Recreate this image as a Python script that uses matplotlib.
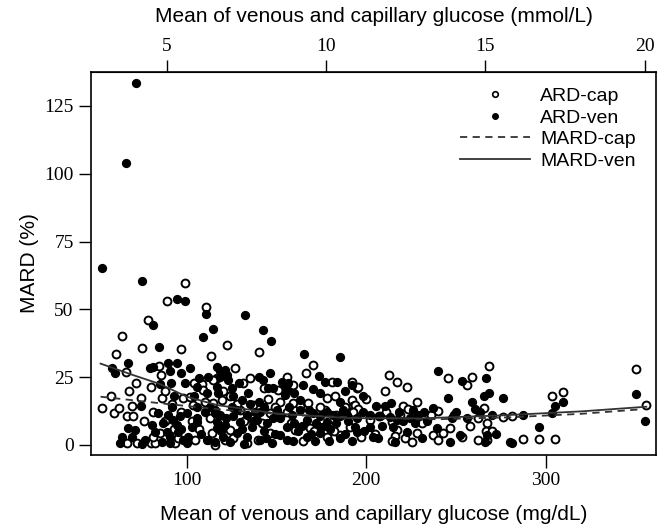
import matplotlib
matplotlib.use("Agg")
import matplotlib.pyplot as plt
from matplotlib.lines import Line2D

# ARD-ven (filled) points: glucose mg/dL, ARD %
ven_x = [52.6, 74.9, 94.4, 99.0, 110.6, 81.4, 114.5, 109.3, 84.7, 67.1, 58.2, 60.0, 79.5, 81.4,
         89.8, 90.7, 94.4, 96.6, 101.8, 85.1, 91.2, 107.0, 105.5, 74.5, 84.2, 89.8, 92.5, 96.3,
         100.0, 105.5, 94.4, 102.7, 105.5, 113.0, 115.7, 116.7, 116.7, 63.8, 62.8, 67.5, 71.2,
         69.3, 80.5, 82.3, 88.8, 90.7, 90.7, 95.3, 98.1, 100.9, 100.0, 111.1, 115.7, 116.7, 71.8,
         66.2, 132.5, 142.3, 146.8, 165.5, 185.4, 173.9, 118.5, 121.3, 122.3, 123.2, 118.5, 140.4,
         142.7, 146.4, 152.9, 148.3, 145.5, 154.8, 156.6, 154.8, 155.7, 170.5, 177.0, 183.5, 191.9,
         111.1, 117.6, 126.0, 130.6, 140.4, 163.1, 185.4, 115.8, 118.5, 116.7, 121.3, 126.0, 129.7,
         133.4, 136.2, 139.0, 140.8, 144.5, 150.1, 152.0, 155.7, 158.5, 163.1, 166.8, 170.5, 174.2,
         175.2, 177.9, 181.7, 185.4, 189.1, 193.8, 112.0, 120.4, 127.8, 133.4, 140.8, 147.3, 152.0,
         159.4, 166.8, 171.5, 174.2, 185.4, 191.9, 205.5, 210.5, 213.7, 240.2, 253.2, 266.8, 245.8,
         265.3, 268.6, 276.4, 258.8, 260.6, 263.4, 237.4, 202.1, 207.7, 213.3, 217.0, 220.7, 224.4,
         227.2, 202.1, 204.0, 194.7, 206.8, 215.1, 216.1, 222.6, 231.0, 239.3, 246.7, 252.3, 267.1,
         266.2, 280.1, 287.1, 281.0, 296.2, 303.7, 305.1, 309.8, 350.3, 355.3,
         125.0, 128.0, 135.0, 138.0, 143.0, 148.0, 157.0, 160.0, 162.0, 168.0, 172.0, 178.0, 180.0,
         183.0, 187.0, 190.0, 195.0, 198.0, 122.0, 131.0, 137.0, 143.0, 149.0, 156.0, 164.0, 169.0,
         179.0, 188.0, 124.0, 132.0, 144.0, 108.0, 106.0, 110.0, 119.0, 87.0, 92.0, 97.0, 77.0,
         75.0, 86.0, 199.0, 209.0, 218.0, 226.0, 232.0, 234.0, 229.0, 248.0, 250.0, 256.0, 270.0,
         272.0, 93.0, 104.0, 99.0, 112.0, 125.0, 134.0, 129.0, 160.0, 165.0, 174.0, 188.0, 198.0]
ven_y = [65.2, 60.6, 53.8, 53.1, 48.3, 44.3, 42.7, 39.7, 36.0, 30.4, 28.5, 26.4, 28.3, 28.9,
         30.1, 27.4, 30.4, 26.4, 28.3, 22.5, 22.8, 24.6, 21.5, 14.5, 11.7, 11.1, 9.2, 10.5,
         11.7, 14.1, 7.4, 6.8, 8.6, 14.1, 11.7, 21.5, 28.9, 3.1, 0.6, 6.1, 5.5,
         3.1, 7.4, 4.9, 4.9, 3.1, 0.6, 4.9, 1.8, 3.1, 0.6, 1.8, 1.2, 6.1, 133.5,
         104.0, 48.0, 42.4, 38.5, 33.5, 32.4, 25.5, 27.1, 27.7, 25.8, 24.0, 25.2, 25.0,
         24.0, 26.7, 23.4, 20.9, 20.9, 22.2, 22.8, 18.5, 20.3, 20.6, 23.4, 23.4, 22.2,
         19.1, 19.1, 17.9, 16.6, 16.0, 16.6, 16.0, 13.0, 11.1, 8.6, 7.4, 10.5, 8.6,
         11.1, 6.8, 9.3, 12.3, 8.0, 12.9, 9.9, 6.8, 11.1, 12.9, 9.3, 11.7, 10.5,
         6.8, 8.6, 11.1, 10.5, 11.1, 6.8, 1.9, 3.1, 4.3, 3.1, 1.9, 0.7, 3.7,
         1.3, 3.1, 1.3, 4.3, 2.5, 1.3, 14.4, 14.4, 15.6, 27.4, 23.7, 24.8, 17.2,
         18.1, 19.0, 17.2, 16.0, 13.1, 12.3, 13.8, 11.1, 10.7, 10.2, 9.2, 9.0, 9.8,
         8.0, 6.8, 3.1, 4.9, 2.5, 6.8, 1.2, 4.9, 2.5, 6.1, 1.2, 3.7, 3.7,
         1.2, 1.2, 11.1, 0.9, 6.5, 11.7, 14.4, 16.0, 18.8, 9.0,
         14.0, 13.0, 15.0, 12.0, 14.0, 10.0, 14.0, 8.0, 5.0, 13.0, 8.0, 12.0, 6.0,
         8.0, 13.0, 9.0, 10.0, 12.0, 10.0, 6.0, 9.0, 5.0, 4.0, 2.0, 7.0, 4.0,
         1.5, 4.0, 1.0, 0.5, 2.5, 4.0, 10.0, 12.0, 5.0, 8.0, 14.0, 6.0, 2.0,
         0.5, 1.0, 5.0, 7.0, 12.0, 13.0, 12.0, 9.0, 11.0, 10.0, 12.0, 10.0, 11.0,
         4.0, 18.0, 18.0, 23.0, 25.0, 21.0, 19.0, 23.0, 19.0, 22.0, 19.0, 20.0, 18.0]

# ARD-cap (open) points
cap_x = [99.0, 89.2, 110.6, 78.6, 63.9, 60.6, 74.9, 96.6, 113.3, 66.2, 84.7, 85.7, 79.9, 108.3,
         108.9, 57.8, 52.6, 59.7, 62.5, 66.5, 70.3, 69.3, 74.5, 81.4, 86.0, 91.6, 98.1, 101.8,
         103.7, 114.8, 116.7, 66.5, 72.1, 79.9, 82.3, 81.4, 85.1, 93.5, 95.3, 104.6, 113.9, 122.6,
         140.4, 170.2, 166.5, 126.9, 114.8, 131.5, 135.3, 155.7, 151.0, 180.8, 191.9, 194.7, 119.5,
         152.0, 159.4, 167.8, 178.0, 182.6, 191.9, 192.8, 115.8, 121.3, 126.0, 133.4, 139.9, 146.4,
         152.0, 160.3, 165.0, 168.7, 178.0, 185.4, 191.0, 129.7, 137.1, 146.4, 163.1, 177.0, 113.0,
         124.1, 195.6, 193.8, 195.6, 212.9, 217.0, 222.6, 210.5, 220.7, 245.8, 258.8, 268.6, 265.3,
         240.2, 267.1, 276.4, 192.5, 202.1, 207.3, 214.2, 217.0, 216.1, 214.2, 221.6, 225.4, 228.1,
         237.4, 240.2, 243.0, 246.7, 253.2, 262.5, 266.8, 267.1, 223.5, 281.0, 287.1, 296.2, 305.1,
         303.7, 309.8, 350.3, 355.8,
         88.0, 93.0, 97.0, 103.0, 107.0, 110.0, 124.0, 128.0, 132.0, 142.0, 145.0, 149.0, 156.0,
         158.0, 171.0, 174.0, 182.0, 188.0, 197.0, 205.0, 211.0, 219.0, 231.0, 236.0, 249.0, 258.0,
         270.0, 68.0, 76.0, 88.0, 72.0, 104.0, 120.0, 143.0, 159.0, 183.0, 200.0, 228.0, 256.0,
         262.0]
cap_y = [59.6, 53.1, 51.0, 46.1, 40.2, 33.6, 35.6, 35.3, 32.8, 27.0, 29.1, 25.8, 21.2, 22.5,
         20.3, 18.2, 13.5, 11.7, 13.8, 10.5, 10.5, 14.5, 17.2, 12.3, 17.2, 15.1, 17.2, 17.6,
         14.8, 15.4, 24.6, 0.6, 0.6, 0.6, 0.6, 3.1, 4.3, 0.6, 2.5, 1.8, 4.3, 36.9,
         34.2, 29.3, 26.5, 28.3, 24.0, 22.8, 24.6, 25.2, 20.3, 23.4, 23.4, 20.9, 16.6,
         16.0, 15.4, 15.4, 17.2, 17.9, 16.6, 14.2, 0.0, 1.9, 2.5, 0.7, 1.9, 4.3,
         10.5, 5.6, 1.3, 6.2, 3.1, 3.7, 6.8, 12.9, 14.8, 11.7, 14.2, 13.0, 9.9,
         5.6, 21.3, 14.7, 13.1, 25.8, 23.1, 21.3, 20.0, 14.4, 24.6, 25.2, 29.2, 13.5,
         12.5, 8.2, 10.2, 12.3, 9.2, 10.5, 8.6, 5.5, 3.3, 1.6, 2.5, 1.2, 4.3,
         3.7, 1.8, 4.3, 6.1, 2.8, 1.8, 5.3, 1.8, 13.1, 10.7, 2.2, 2.2, 2.2,
         18.1, 19.7, 27.9, 14.7,
         9.0, 6.0, 12.0, 9.0, 6.0, 16.0, 18.0, 15.0, 9.0, 8.0, 17.0, 14.0, 12.0,
         8.0, 5.0, 14.0, 5.0, 14.0, 3.0, 4.0, 12.0, 11.0, 8.0, 11.0, 11.0, 7.0,
         5.0, 20.0, 9.0, 20.0, 23.0, 23.0, 20.0, 21.0, 22.0, 11.0, 17.0, 16.0, 22.0,
         10.0]

# smoothed MARD curves
ven_fit_x = [52, 70, 85, 100, 117, 150, 190, 230, 275, 320, 356]
ven_fit_y = [30.0, 25.8, 22.5, 17.8, 14.7, 11.6, 9.9, 9.8, 10.9, 12.4, 14.1]
cap_fit_x = [52, 85, 120, 160, 200, 240, 280, 320, 354]
cap_fit_y = [17.8, 15.4, 13.0, 11.0, 10.0, 9.5, 10.2, 11.5, 13.2]

MG_PER_MMOL = 17.75

fig = plt.figure(figsize=(6.62, 5.32), dpi=100)
ax = fig.add_axes([0.1375, 0.1447, 0.8535, 0.72])

ax.scatter(cap_x, cap_y, s=32, facecolors="white", edgecolors="black", linewidths=1.4, zorder=3)
ax.scatter(ven_x, ven_y, s=32, color="black", zorder=3)
ax.plot(cap_fit_x, cap_fit_y, color="#333333", lw=1.3, ls=(0, (4, 3)), zorder=4)
ax.plot(ven_fit_x, ven_fit_y, color="#333333", lw=1.3, zorder=4)

ax.set_xlim(46.7, 361.4)
ax.set_ylim(-3.7, 137.5)
ax.set_xticks([100, 200, 300])
ax.set_yticks([0, 25, 50, 75, 100, 125])

for lab in ax.get_xticklabels() + ax.get_yticklabels():
    lab.set_fontfamily("Liberation Serif")
    lab.set_fontsize(14)
ax.tick_params(direction="out", length=9, width=1.0, top=False, right=False)
for sp in ax.spines.values():
    sp.set_linewidth(1.2)

top = ax.secondary_xaxis("top", functions=(lambda x: x / MG_PER_MMOL, lambda x: x * MG_PER_MMOL))
top.set_xticks([5, 10, 15, 20])
top.tick_params(direction="out", length=9, width=1.0)
for lab in top.get_xticklabels():
    lab.set_fontfamily("Liberation Serif")
    lab.set_fontsize(14)

ax.set_ylabel("MARD (%)", fontsize=15, family="Liberation Sans", labelpad=4)
# x labels centred over the plot box
xc = (91 + 656) / 2 / 662
fig.text(xc, 1 - 515 / 532, "Mean of venous and capillary glucose (mg/dL)",
         ha="center", va="center", fontsize=15, family="Liberation Sans")
fig.text(xc, 1 - 16 / 532, "Mean of venous and capillary glucose (mmol/L)",
         ha="center", va="center", fontsize=15, family="Liberation Sans")

handles = [
    Line2D([], [], marker="o", ls="none", markersize=4, markerfacecolor="white",
           markeredgecolor="black", markeredgewidth=1.2),
    Line2D([], [], marker="o", ls="none", markersize=4, color="black"),
    Line2D([], [], color="#333333", lw=1.3, ls=(0, (4, 3))),
    Line2D([], [], color="#333333", lw=1.3),
]
ax.legend(handles, ["ARD-cap", "ARD-ven", "MARD-cap", "MARD-ven"], loc="upper right",
          bbox_to_anchor=(0.995, 1.005), frameon=False, handlelength=3.6, handletextpad=0.5,
          labelspacing=0.2, prop={"family": "Liberation Sans", "size": 14})

fig.savefig("out.png", dpi=100)
